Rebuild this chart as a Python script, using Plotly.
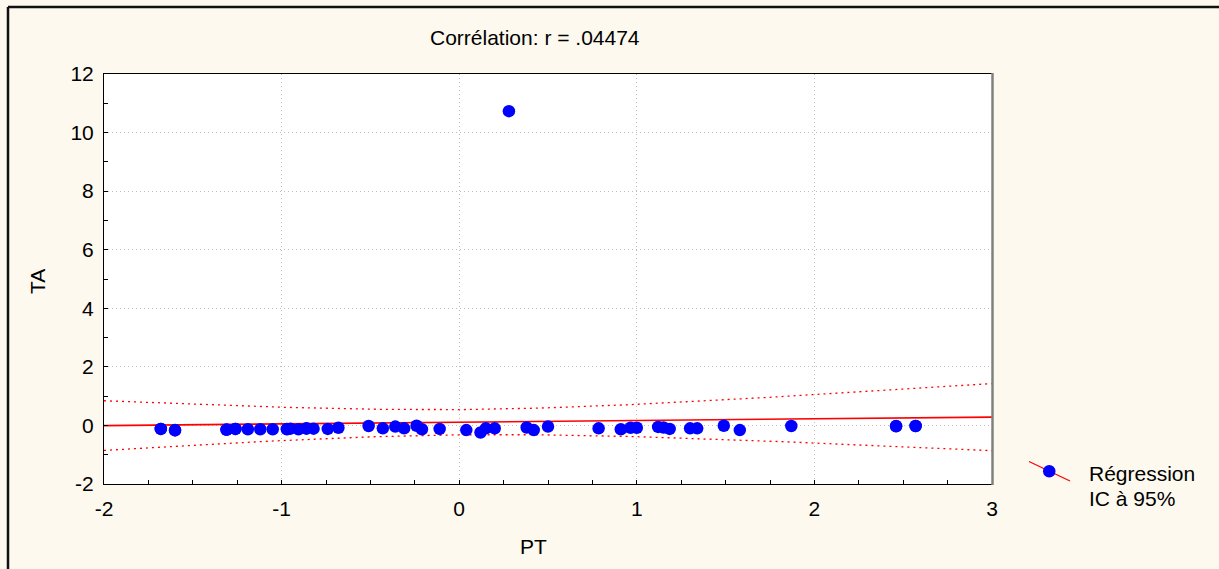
import numpy as np
import plotly.graph_objects as go

# PT / TA observations (several points sit on top of one another)
pt = [-1.68, -1.68, -1.60, -1.60, -1.31, -1.31, -1.26, -1.26, -1.19, -1.12,
      -1.05, -0.97, -0.97, -0.95, -0.905, -0.86, -0.86, -0.82, -0.74, -0.68,
      -0.51, -0.43, -0.36, -0.31, -0.24, -0.21, -0.11, 0.04, 0.12, 0.15,
      0.20, 0.28, 0.38, 0.42, 0.50, 0.785, 0.91, 0.965, 1.00, 1.12,
      1.15, 1.185, 1.30, 1.34, 1.49, 1.58, 1.87, 2.46, 2.46, 2.57,
      2.57]
ta = [-0.12, -0.12, -0.17, -0.16, -0.15, -0.14, -0.12, -0.12, -0.13, -0.13,
      -0.13, -0.13, -0.12, -0.11, -0.13, -0.10, -0.11, -0.11, -0.12, -0.08,
      -0.02, -0.10, -0.04, -0.10, -0.01, -0.13, -0.12, -0.16, -0.24, -0.10,
      -0.10, 10.73, -0.07, -0.16, -0.04, -0.10, -0.13, -0.08, -0.08, -0.05,
      -0.07, -0.12, -0.10, -0.10, -0.01, -0.16, -0.02, -0.02, -0.03, -0.02,
      -0.02]

title_text = "Corrélation: r = .04474"
x_title = "PT"
y_title = "TA"
legend_lines = ["Régression", "IC à 95%"]
x_ticks = [-2, -1, 0, 1, 2, 3]
y_ticks = [-2, 0, 2, 4, 6, 8, 10, 12]
T95 = 2.01  # Student t, 95%, n-2 df

# least-squares fit with 95% confidence band for the mean
x = np.array(pt)
y = np.array(ta)
n = len(x)
xm, ym = x.mean(), y.mean()
sxx = ((x - xm) ** 2).sum()
b = ((x - xm) * (y - ym)).sum() / sxx
a = ym - b * xm
s = np.sqrt(((y - (a + b * x)) ** 2).sum() / (n - 2))
xf = np.linspace(-2, 3, 200)
yf = a + b * xf
half = T95 * s * np.sqrt(1.0 / n + (xf - xm) ** 2 / sxx)

W, H = 1219, 569
L, R, T, B = 104, 992, 74, 484


def px(v):
    return (v - L) / (R - L)


def py(v):
    return (B - v) / (B - T)


RED = "#FF0000"
BLUE = "#0000FF"
FONT = "Liberation Sans, Arial, sans-serif"
FS = 21

fig = go.Figure()
for band in (yf + half, yf - half):
    fig.add_trace(go.Scatter(x=xf, y=band, mode="lines",
                             line=dict(color=RED, width=1.3, dash="2px,4px"),
                             hoverinfo="skip", showlegend=False))
fig.add_trace(go.Scatter(x=xf, y=yf, mode="lines",
                         line=dict(color=RED, width=1.6),
                         hoverinfo="skip", showlegend=False))
fig.add_trace(go.Scatter(x=pt, y=ta, mode="markers",
                         marker=dict(color=BLUE, size=12.5, line=dict(width=0)),
                         showlegend=False))

axis_common = dict(
    showline=True, linecolor="black", linewidth=1, mirror=True,
    ticks="inside", ticklen=4, tickcolor="black",
    showgrid=True, gridcolor="#bdbdbd", griddash="1px,3px", gridwidth=1,
    zeroline=False,
    tickfont=dict(family=FONT, size=FS, color="black"),
)

fig.update_layout(
    width=W, height=H,
    margin=dict(l=L, r=W - R, t=T, b=H - B, pad=0),
    paper_bgcolor="#FDF9EE",
    plot_bgcolor="white",
    font=dict(family=FONT, color="black"),
    showlegend=False,
    xaxis=dict(range=[-2, 3], tickvals=x_ticks, ticktext=[str(v) for v in x_ticks],
               minor=dict(dtick=0.25, ticks="inside", ticklen=4, tickcolor="black",
                          showgrid=False),
               ticklabelstandoff=6, **axis_common),
    yaxis=dict(range=[-2, 12], tickvals=y_ticks, ticktext=[str(v) for v in y_ticks],
               minor=dict(dtick=1, ticks="inside", ticklen=4, tickcolor="black",
                          showgrid=False),
               ticklabelstandoff=5, **axis_common),
)

annotations = [
    dict(text=title_text, x=px(535), y=py(38)),
    dict(text=x_title, x=px(533), y=py(546)),
    dict(text=y_title, x=px(37), y=py(282), textangle=-90),
    dict(text=legend_lines[0], x=px(1087), y=py(473), xanchor="left"),
    dict(text=legend_lines[1], x=px(1087), y=py(498), xanchor="left"),
]
for ann in annotations:
    ann.setdefault("xanchor", "center")
    fig.add_annotation(xref="paper", yref="paper", showarrow=False,
                       yanchor="middle", font=dict(family=FONT, size=FS, color="black"),
                       **ann)

# outer frame (left and top edges) and darker right edge of the plot box
fig.add_shape(type="line", xref="paper", yref="paper",
              x0=px(8), x1=px(8), y0=py(7), y1=py(575),
              line=dict(color="#111111", width=2.5))
fig.add_shape(type="line", xref="paper", yref="paper",
              x0=px(8), x1=px(1225), y0=py(7), y1=py(7),
              line=dict(color="#111111", width=2.5))
fig.add_shape(type="line", xref="paper", yref="paper",
              x0=px(992.5), x1=px(992.5), y0=py(73), y1=py(485),
              line=dict(color="#808080", width=2.5))

# legend key: red regression stroke with a blue point
fig.add_shape(type="line", xref="paper", yref="paper",
              x0=px(1029), x1=px(1070), y0=py(461.5), y1=py(481),
              line=dict(color=RED, width=1.3))
fig.add_shape(type="circle", xref="paper", yref="paper",
              x0=px(1043), x1=px(1055.5), y0=py(465), y1=py(477.5),
              fillcolor=BLUE, line=dict(color=BLUE, width=0))

fig.write_html("out.html")
